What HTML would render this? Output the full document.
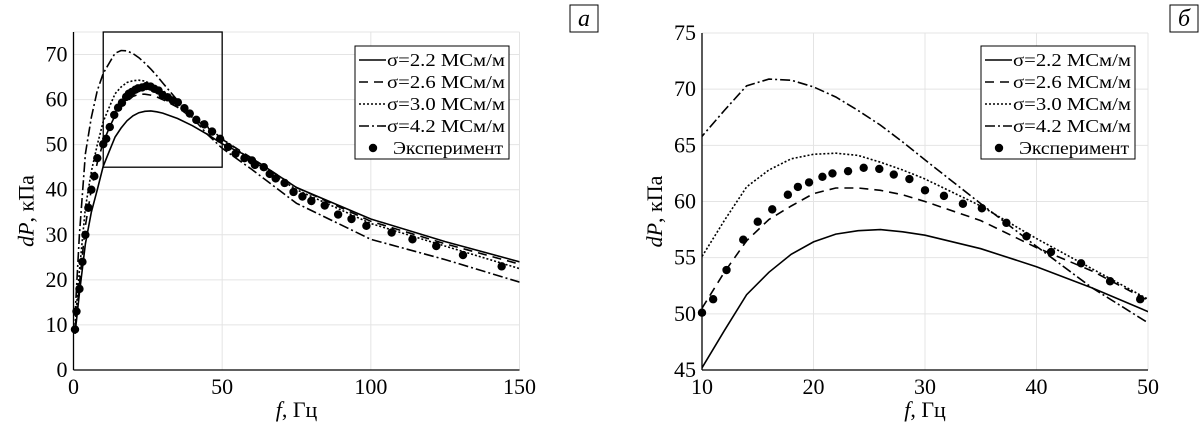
<!DOCTYPE html>
<html><head><meta charset="utf-8">
<style>
html,body{margin:0;padding:0;background:#fff;overflow:hidden;width:1200px;height:430px;}
svg{display:block;font-family:"Liberation Serif",serif;}
</style></head>
<body>
<svg id="chart" width="1200" height="430" viewBox="0 0 1200 430"></svg>
<script>
// ---- data ----
const freqModel = [0.5,2,4,6,8,10,12,14,16,18,20,22,24,26,28,30,35,40,45,50,60,75,100,125,150];
const s22 = [8,17,28,35,40,45.2,48.5,51.7,53.7,55.3,56.4,57.1,57.4,57.5,57.3,57.0,55.8,54.2,52.3,50.2,47,40.5,33.5,28.5,24];
const s26 = [9,19,32,40,46,50.5,53.7,56.5,58.4,59.6,60.7,61.2,61.2,61.0,60.6,60.0,58.3,55.9,53.8,51.2,47,40.5,33,28,23.5];
const s30 = [10,22,36,44,50,55.1,58.3,61.3,62.8,63.8,64.2,64.3,64.1,63.5,62.8,62.0,59.6,56.7,54.0,51.3,46.5,40,32.5,27.5,22.5];
const s42 = [12,30,48,56,62,65.8,68.1,70.3,70.9,70.8,70.2,69.3,68.1,66.8,65.3,63.7,59.8,56.0,52.3,49.2,44.5,37,29,24.5,19.5];
const expF = [0.5,1,2,3,4,5,6,7,8,10,11,12.2,13.7,15,16.3,17.7,18.6,19.6,20.8,21.7,23.1,24.5,25.9,27.2,28.6,30,31.7,33.4,35.1,37.3,39.1,41.3,44,46.6,49.3,52,54.5,57.5,60,61,64,66,68,71,74,77,80,84.5,89,93.5,98.5,107,114,122,131,144];
const expV = [9,13,18,24,30,36,40,43,47,50.1,51.3,53.9,56.6,58.2,59.3,60.6,61.3,61.7,62.2,62.5,62.7,63.0,62.9,62.4,62.0,61.0,60.5,59.8,59.4,58.1,56.9,55.5,54.5,52.9,51.3,49.5,48,47,46.5,45.5,45,43.5,42.5,41.5,39.5,38.5,37.5,36.5,34.5,33.5,32,30.5,29,27.5,25.5,23];
const seriesLabels = ["σ=2.2 МСм/м","σ=2.6 МСм/м","σ=3.0 МСм/м","σ=4.2 МСм/м","Эксперимент"];
const xTicksA = [0,50,100,150];
const yTicksA = [0,10,20,30,40,50,60,70];
const xTicksB = [10,20,30,40,50];
const yTicksB = [45,50,55,60,65,70,75];

const NS="http://www.w3.org/2000/svg";
const svg=document.getElementById('chart');
function mk(tag,attrs,parent){const e=document.createElementNS(NS,tag);for(const k in attrs)e.setAttribute(k,attrs[k]);(parent||svg).appendChild(e);return e;}
const dashes=["none","9,6","2,2","10,3,2,3"];

function panel(id,x0,x1,y0,y1,xmin,xmax,ymin,ymax,xt,yt,letter,lx,legX){
  const g=mk('g',{});
  
  
  const sx=v=>x0+(v-xmin)/(xmax-xmin)*(x1-x0);
  const sy=v=>y0-(v-ymin)/(ymax-ymin)*(y0-y1);
  const cp=mk('clipPath',{id:'clip'+id},g);
  mk('rect',{x:x0,y:y1,width:x1-x0,height:y0-y1},cp);
  xt.forEach(t=>{const l=mk('line',{x1:sx(t),x2:sx(t),y1:y0,y2:y1,stroke:'#e4e4e4','stroke-width':1},g);});
  yt.forEach(t=>{const l=mk('line',{x1:x0,x2:x1,y1:sy(t),y2:sy(t),stroke:'#e4e4e4','stroke-width':1},g);});
  mk('line',{x1:x1,x2:x1,y1:y0,y2:y1,stroke:'#e4e4e4'},g);
  mk('line',{x1:x0,x2:x1,y1:y1,y2:y1,stroke:'#e4e4e4'},g);
  const cg=mk('g',{'clip-path':'url(#clip'+id+')'},g);
  [s22,s26,s30,s42].forEach((s,i)=>{
    const d=freqModel.map((f,j)=>(j?'L':'M')+sx(f).toFixed(1)+','+sy(s[j]).toFixed(1)).join('');
    const p=mk('path',{d:d,fill:'none',stroke:'#000','stroke-width':1.6,'stroke-dasharray':dashes[i]},cg);
    
    
  });
  expF.forEach((f,j)=>{
    if(f<xmin-0.3||f>xmax+0.3)return;
    const c=mk('circle',{cx:sx(f),cy:sy(expV[j]),r:4.2,fill:'#000'},g);
    
    
  });
  const ax=mk('line',{x1:x0,x2:x1,y1:y0,y2:y0,stroke:'#000','stroke-width':1.3},g);
  
  const ay=mk('line',{x1:x0,x2:x0,y1:y0,y2:y1,stroke:'#000','stroke-width':1.3},g);
  
  xt.forEach(t=>{const tx=mk('text',{x:sx(t),y:y0+24,'text-anchor':'middle','font-size':22},g);tx.textContent=t;});
  yt.forEach(t=>{const tx=mk('text',{x:x0-6,y:sy(t)+7,'text-anchor':'end','font-size':22},g);tx.textContent=t;});
  const xl=mk('text',{x:(x0+x1)/2,y:y0+47,'text-anchor':'middle','font-size':22},g);
  xl.innerHTML='<tspan font-style="italic">f</tspan>, Гц';
  
  const yl=mk('text',{x:0,y:0,'text-anchor':'middle','font-size':22,transform:`translate(${x0-40},${(y0+y1)/2+10}) rotate(-90)`},g);
  yl.innerHTML='<tspan font-style="italic">dP</tspan>, кПа';
  
  const lg=mk('g',{},g);
  
  mk('rect',{x:legX,y:46,width:154,height:113,fill:'#fff',stroke:'#000','stroke-width':1},lg);
  seriesLabels.forEach((s,i)=>{
    const yy=46+14+i*22;
    const e=mk('g',{},lg);
    
    if(i<4) mk('line',{x1:legX+4,x2:legX+31,y1:yy,y2:yy,stroke:'#000','stroke-width':1.6,'stroke-dasharray':dashes[i]},e);
    else mk('circle',{cx:legX+18,cy:yy,r:4.2,fill:'#000'},e);
    const t=mk('text',{x:i<4?legX+32:legX+38,y:yy+6,'font-size':18,textLength:i<4?118:110,lengthAdjust:'spacingAndGlyphs'},e);t.textContent=s;
  });
  const lb=mk('g',{},g);
  
  mk('rect',{x:lx,y:5,width:28,height:27,fill:'#fff',stroke:'#000','stroke-width':1},lb);
  const lt=mk('text',{x:lx+14,y:26,'text-anchor':'middle','font-size':24,'font-style':'italic'},lb);lt.textContent=letter;
  return {sx,sy,g};
}
const A=panel('a',73.5,519.5,370,32,0,150,0,75,xTicksA,yTicksA,'а',570,355);
const zr=mk('rect',{x:A.sx(10),y:A.sy(75),width:A.sx(50)-A.sx(10),height:A.sy(45)-A.sy(75),fill:'none',stroke:'#000','stroke-width':1.3},A.g);


panel('b',702,1148,370,33,10,50,45,75,xTicksB,yTicksB,'б',1170,981);
</script>
</body></html>
